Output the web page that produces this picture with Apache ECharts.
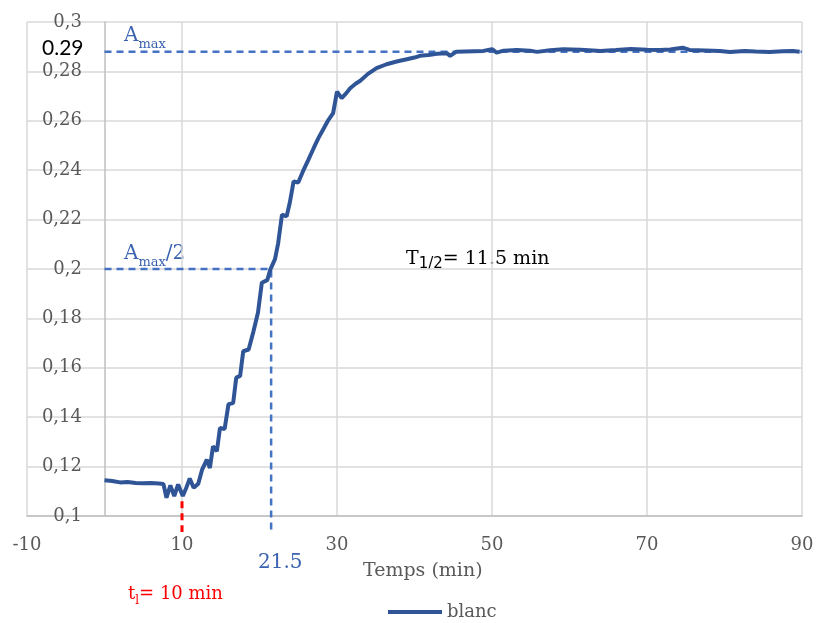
<!DOCTYPE html>
<html>
<head>
<meta charset="utf-8">
<script src="https://cdn.jsdelivr.net/npm/echarts@6/dist/echarts.min.js"></script>
<style>html,body{margin:0;padding:0;background:#fff}#c{width:818px;height:623px}</style>
</head>
<body>
<div id="c"></div>
<script>
// Measured curve "blanc": time (min) and absorbance
const time = [0, 1, 2, 3, 4, 5, 6, 7, 7.6, 8.0, 8.5, 9.0, 9.5, 10.1, 10.5, 11.0, 11.5, 12.1, 12.6, 13.2, 13.6, 14.0, 14.5, 14.9, 15.5, 16.0, 16.6, 17.0, 17.5, 17.9, 18.6, 19.2, 19.8, 20.3, 21.0, 21.4, 22.0, 22.4, 22.9, 23.5, 23.9, 24.4, 25.0, 25.6, 26.3, 27.0, 27.6, 28.3, 28.9, 29.5, 30.0, 30.6, 31.2, 31.7, 32.4, 33.0, 34.0, 35.1, 36.4, 37.7, 39.0, 40.0, 40.7, 41.8, 42.9, 44.2, 44.6, 45.4, 46.5, 47.7, 48.9, 50.0, 50.6, 51.5, 53.2, 54.9, 55.8, 57.5, 59.2, 61.4, 62.5, 64.0, 66.0, 67.9, 70.0, 71.7, 73.0, 74.6, 75.5, 77.5, 79.4, 80.7, 82.6, 84.0, 85.8, 87.5, 88.8, 89.7];
const blanc = [0.1145, 0.1142, 0.1136, 0.1138, 0.1134, 0.1133, 0.1134, 0.1132, 0.1130, 0.1074, 0.1124, 0.1081, 0.1128, 0.1081, 0.1110, 0.1152, 0.1114, 0.1131, 0.1188, 0.1228, 0.1194, 0.1282, 0.1262, 0.1356, 0.1352, 0.1453, 0.1457, 0.1560, 0.1567, 0.1667, 0.1674, 0.1745, 0.1823, 0.1944, 0.1955, 0.1998, 0.2040, 0.2103, 0.2220, 0.2213, 0.2267, 0.2355, 0.2350, 0.2395, 0.2442, 0.2490, 0.2530, 0.2570, 0.2604, 0.2631, 0.2718, 0.2692, 0.2712, 0.2732, 0.2750, 0.2762, 0.2790, 0.2813, 0.2829, 0.2840, 0.2849, 0.2856, 0.2863, 0.2866, 0.2871, 0.2873, 0.2863, 0.2880, 0.2881, 0.2882, 0.2883, 0.2890, 0.2876, 0.2884, 0.2887, 0.2884, 0.2879, 0.2886, 0.2890, 0.2888, 0.2886, 0.2883, 0.2887, 0.2891, 0.2888, 0.2887, 0.2889, 0.2896, 0.2887, 0.2885, 0.2883, 0.2879, 0.2883, 0.2881, 0.2879, 0.2882, 0.2883, 0.2880];

// Annotation guide lines (data coordinates)
const amaxLineX = [0, 90];
const amaxLineY = [0.288, 0.288];
const halfLineX = [0, 21.5, 21.5];
const halfLineY = [0.2, 0.2, 0.0935];
const tlLineX = [10, 10];
const tlLineY = [0.106, 0.0935];

// Axis settings
const xMin = -10, xMax = 90, xStep = 20;
const yMin = 0.1, yMax = 0.3, yStep = 0.02;

const zip = (a, b) => a.map((v, i) => [v, b[i]]);
const serif = 'DejaVu Serif';
const chart = echarts.init(document.getElementById('c'));
chart.setOption({
  animation: false,
  backgroundColor: '#fff',
  grid: { left: 27, right: 16, top: 22, bottom: 107, containLabel: false, outerBoundsMode: 'none' },
  xAxis: {
    type: 'value', min: xMin, max: xMax, interval: xStep,
    axisLine: { show: true, onZero: false, lineStyle: { color: '#bfbfbf', width: 1.5 } },
    axisTick: { show: false },
    axisLabel: { color: '#595959', fontFamily: serif, fontSize: 18, margin: 20 },
    splitLine: { show: true, lineStyle: { color: '#d9d9d9', width: 1.5 } }
  },
  yAxis: {
    type: 'value', min: yMin, max: yMax, interval: yStep,
    axisLine: { show: true, onZero: true, lineStyle: { color: '#bfbfbf', width: 1.5 } },
    axisTick: { show: false },
    axisLabel: { color: '#595959', fontFamily: serif, fontSize: 18, margin: -55,
      formatter: v => String(+v.toFixed(2)).replace('.', ',') },
    splitLine: { show: true, lineStyle: { color: '#d9d9d9', width: 1.5 } }
  },
  legend: {
    data: [{ name: 'blanc', icon: 'rect' }], left: 383, top: 598, itemWidth: 54, itemHeight: 4, itemGap: 4,
    textStyle: { color: '#595959', fontFamily: serif, fontSize: 18 }
  },
  series: [
    { name: 'amax', type: 'line', data: zip(amaxLineX, amaxLineY), symbol: 'none', silent: true,
      lineStyle: { color: '#4472C4', width: 2.5, type: [7, 5] } },
    { name: 'half', type: 'line', data: zip(halfLineX, halfLineY), symbol: 'none', silent: true, clip: false,
      lineStyle: { color: '#4472C4', width: 2.5, type: [7, 5] } },
    { name: 'tl', type: 'line', data: zip(tlLineX, tlLineY), symbol: 'none', silent: true, clip: false,
      lineStyle: { color: '#ff0000', width: 3, type: [7, 5] } },
    { name: 'blanc', type: 'line', data: zip(time, blanc), symbol: 'none', showSymbol: false,
      lineStyle: { color: '#2F5597', width: 4 }, itemStyle: { color: '#2F5597' } }
  ],
  graphic: [
    { type: 'text', left: 42, top: 38, style: { text: '0.29', fill: '#000', font: '21px Lato' } },
    { type: 'text', left: 124, top: 26, style: { rich: {
        a: { fontFamily: serif, fontSize: 20, fill: '#3A62B0', verticalAlign: 'bottom', padding: [0, 0, 5, 0] },
        s: { fontFamily: serif, fontSize: 13, fill: '#3A62B0', verticalAlign: 'bottom' } },
        text: '{a|A}{s|max}' } },
    { type: 'text', left: 124, top: 244, style: { rich: {
        a: { fontFamily: serif, fontSize: 20, fill: '#3A62B0', verticalAlign: 'bottom', padding: [0, 0, 5, 0] },
        s: { fontFamily: serif, fontSize: 13, fill: '#3A62B0', verticalAlign: 'bottom' } },
        text: '{a|A}{s|max}{a|/2}' } },
    { type: 'text', left: 406, top: 250, style: { rich: {
        a: { fontFamily: serif, fontSize: 19, fill: '#000', verticalAlign: 'bottom', padding: [0, 0, 3, 0] },
        s: { fontFamily: 'DejaVu Sans', fontSize: 15, fill: '#000', verticalAlign: 'bottom' } },
        text: '{a|T}{s|1/2}{a|= 11.5 min}' } },
    { type: 'text', left: 258, top: 553, style: { text: '21.5', fill: '#3A62B0', font: '20px "DejaVu Serif"' } },
    { type: 'text', left: 363, top: 562, style: { text: 'Temps (min)', fill: '#595959', font: '19px "DejaVu Serif"' } },
    { type: 'text', left: 128, top: 585, style: { rich: {
        a: { fontFamily: serif, fontSize: 18, fill: '#ff0000', verticalAlign: 'bottom', padding: [0, 0, 4, 0] },
        s: { fontFamily: serif, fontSize: 12, fill: '#ff0000', verticalAlign: 'bottom' } },
        text: '{a|t}{s|l}{a|= 10 min}' } }
  ]
});
</script>
</body>
</html>
